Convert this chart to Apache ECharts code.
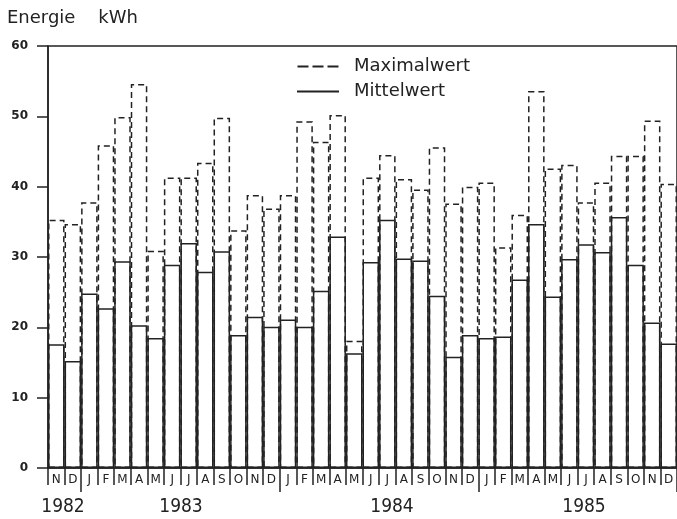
<!DOCTYPE html>
<html>
<head>
<meta charset="utf-8">
<script src="https://cdn.jsdelivr.net/npm/echarts@6/dist/echarts.min.js"></script>
<style>
  html, body { margin: 0; padding: 0; background: #fff; }
  #chart { width: 677px; height: 519px; }
</style>
</head>
<body>
<div id="chart"></div>
<script>
// Months from Nov 1982 to Dec 1985
const months = ['N','D',
  'J','F','M','A','M','J','J','A','S','O','N','D',
  'J','F','M','A','M','J','J','A','S','O','N','D',
  'J','F','M','A','M','J','J','A','S','O','N','D'];

// Maximalwert (dashed), kWh
const maxValues = [35.3, 34.7,
  37.8, 45.9, 49.9, 54.6, 30.9, 41.3, 41.3, 43.4, 49.8, 33.8, 38.8, 36.9,
  38.8, 49.3, 46.4, 50.2, 18.1, 41.3, 44.5, 41.1, 39.6, 45.6, 37.6, 40.0,
  40.6, 31.4, 36.0, 53.6, 42.6, 43.1, 37.8, 40.6, 44.4, 44.4, 49.4, 40.4];

// Mittelwert (solid), kWh
const meanValues = [17.6, 15.2,
  24.8, 22.7, 29.4, 20.3, 18.5, 28.9, 32.0, 27.9, 30.8, 18.9, 21.5, 20.1,
  21.1, 20.1, 25.2, 32.9, 16.3, 29.3, 35.3, 29.8, 29.5, 24.5, 15.8, 18.9,
  18.5, 18.7, 26.8, 34.7, 24.4, 29.7, 31.8, 30.7, 35.7, 28.9, 20.7, 17.7];

const yearLabels = ['1982', '1983', '1984', '1985'];
const yTicks = [0, 10, 20, 30, 40, 50, 60];

const INK = '#222';
const chart = echarts.init(document.getElementById('chart'), null, { renderer: 'canvas' });

const isYearStart = (i) => i > 0 && months[i - 1] === 'D' && months[i] === 'J';
const yearX = [63, 181, 392, 584];

chart.setOption({
  animation: false,
  backgroundColor: '#fff',
  title: {
    text: 'Energie    kWh',
    left: 7, top: 9, padding: 0,
    textStyle: { fontFamily: 'DejaVu Sans', fontSize: 18, fontWeight: 'normal', color: INK }
  },
  legend: {
    orient: 'vertical',
    left: 297, top: 54, padding: 0,
    itemWidth: 42, itemHeight: 2, itemGap: 0,
    selectedMode: false,
    textStyle: { fontFamily: 'DejaVu Sans', fontSize: 18, color: INK, lineHeight: 25, padding: [0, 0, 0, 10] },
    data: [
      { name: 'Maximalwert', icon: 'path://M0,0h11v2h-11z M15,0h11v2h-11z M30,0h11v2h-11z',
        itemStyle: { color: INK, borderWidth: 0 } },
      { name: 'Mittelwert', icon: 'rect', itemStyle: { color: INK, borderWidth: 0 } }
    ]
  },
  grid: {
    left: 48, top: 46, width: 630, height: 422,
    show: true, borderColor: INK, borderWidth: 1.5, backgroundColor: 'transparent'
  },
  xAxis: [
    {
      type: 'category', data: months, position: 'bottom', boundaryGap: true,
      axisLine: { lineStyle: { color: INK, width: 1.5 } },
      axisTick: { show: true, interval: 0, length: 17, lineStyle: { color: INK, width: 1.5 } },
      axisLabel: { interval: 0, margin: 6, fontFamily: 'DejaVu Sans', fontSize: 12, color: INK },
      splitLine: { show: false }
    },
    {
      type: 'category', data: months, position: 'bottom', boundaryGap: true,
      axisLine: { show: false },
      axisTick: { show: true, length: 24, interval: (i) => isYearStart(i), lineStyle: { color: INK, width: 1.5 } },
      axisLabel: { show: false },
      splitLine: { show: false }
    }
  ],
  yAxis: {
    type: 'value', min: yTicks[0], max: yTicks[yTicks.length - 1], interval: 10,
    axisLine: { show: true, lineStyle: { color: INK, width: 1.5 } },
    axisTick: { show: true, length: 11, lineStyle: { color: INK, width: 1.5 } },
    axisLabel: { margin: 20, fontFamily: 'DejaVu Sans', fontWeight: 'bold', fontSize: 12, color: INK },
    splitLine: { show: false }
  },
  series: [
    {
      name: 'Maximalwert', type: 'bar', data: maxValues, barWidth: '100%', z: 2,
      itemStyle: { color: 'rgba(0,0,0,0)', borderColor: INK, borderWidth: 1.5, borderType: [6, 4] },
      emphasis: { disabled: true }
    },
    {
      name: 'Mittelwert', type: 'bar', data: meanValues, barWidth: '100%', barGap: '-100%', z: 3,
      itemStyle: { color: 'rgba(0,0,0,0)', borderColor: INK, borderWidth: 1.5, borderType: 'solid' },
      emphasis: { disabled: true }
    }
  ],
  graphic: yearLabels.map((t, i) => ({
    type: 'text', x: yearX[i], y: 507,
    style: { text: t, font: '19px "DejaVu Sans Condensed", "DejaVu Sans", sans-serif',
             fill: INK, align: 'center', verticalAlign: 'middle' }
  }))
});
</script>
</body>
</html>
